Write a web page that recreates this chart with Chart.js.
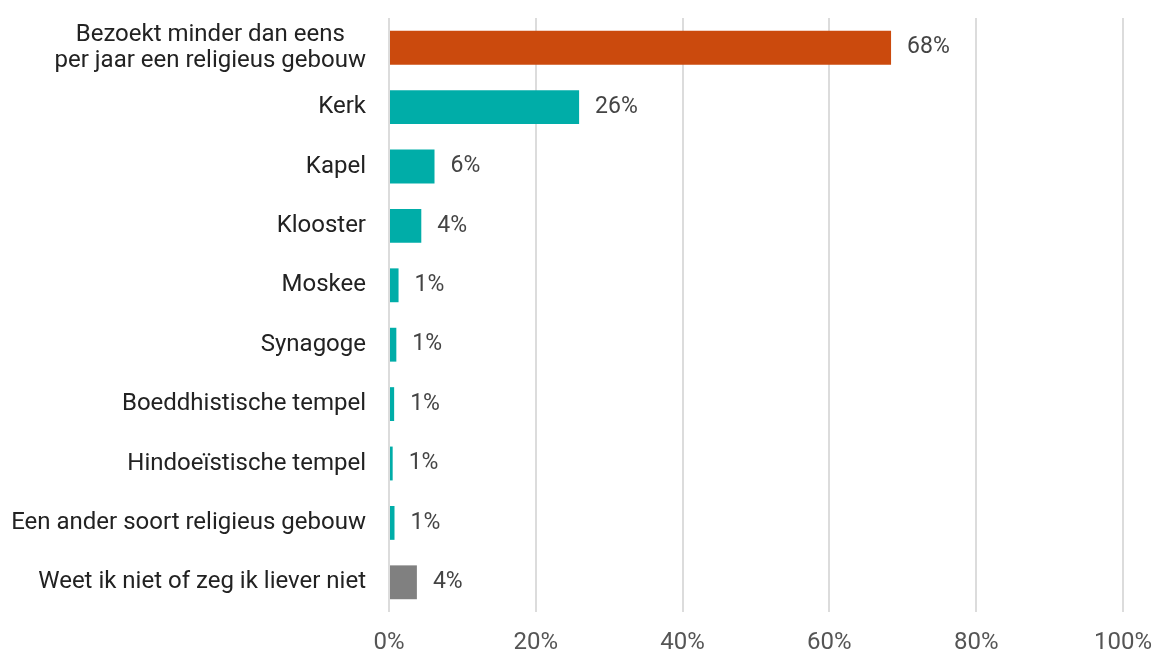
<!DOCTYPE html>
<html>
<head>
<meta charset="utf-8">
<script src="https://cdn.jsdelivr.net/npm/chart.js@4"></script>
<style>
    html, body { margin: 0; padding: 0; background: #fff; }
    #wrap { width: 1154px; height: 653px; }
</style>
</head>
<body>
<div id="wrap"><canvas id="chart"></canvas></div>
<script>
const categories = [
    ['Bezoekt minder dan eens', 'per jaar een religieus gebouw'],
    'Kerk',
    'Kapel',
    'Klooster',
    'Moskee',
    'Synagoge',
    'Boeddhistische tempel',
    'Hindoeïstische tempel',
    'Een ander soort religieus gebouw',
    'Weet ik niet of zeg ik liever niet'
];
const values = [68.4, 25.9, 6.2, 4.4, 1.3, 1.0, 0.7, 0.5, 0.75, 3.8];
const shownLabels = ['68%', '26%', '6%', '4%', '1%', '1%', '1%', '1%', '1%', '4%'];
const xTicks = [0, 20, 40, 60, 80, 100];

const barColors = values.map((v, i) => {
    if (i === 0) return 'rgb(203,74,13)';
    if (i === values.length - 1) return 'rgb(128,128,128)';
    return 'rgb(0,173,168)';
});

// value labels at the end of each bar + the two-line category label (centered lines)
const valueLabels = {
    id: 'valueLabels',
    afterDatasetsDraw(chart) {
        const ctx = chart.ctx;
        const meta = chart.getDatasetMeta(0);
        ctx.save();
        ctx.font = '23px Roboto';
        ctx.fillStyle = '#444';
        ctx.textAlign = 'left';
        ctx.textBaseline = 'middle';
        meta.data.forEach((bar, i) => {
            ctx.fillText(shownLabels[i], bar.x + 16, bar.y);
        });

        const yScale = chart.scales.y;
        ctx.font = '24px Roboto';
        ctx.fillStyle = '#222';
        ctx.textAlign = 'center';
        categories.forEach((c, i) => {
            if (!Array.isArray(c)) return;
            const w = Math.max(...c.map(s => ctx.measureText(s).width));
            const cx = yScale.right - 23 - w / 2;
            const cy = yScale.getPixelForTick(i);
            const lh = 26;
            c.forEach((line, k) => {
                ctx.fillText(line, cx, cy + (k - (c.length - 1) / 2) * lh);
            });
        });
        ctx.restore();
    }
};

const data = {
    labels: categories,
    datasets: [{
        data: values,
        backgroundColor: barColors,
        borderWidth: 0,
        categoryPercentage: 1,
        barPercentage: 0.57
    }]
};

const config = {
    type: 'bar',
    data: data,
    options: {
        indexAxis: 'y',
        responsive: true,
        maintainAspectRatio: false,
        animation: false,
        layout: {
            padding: { top: 18, right: 31, bottom: 0, left: 12 }
        },
        scales: {
            x: {
                min: 0,
                max: 100,
                afterBuildTicks: (axis) => {
                    axis.ticks = xTicks.map(v => ({ value: v }));
                },
                afterFit: (axis) => {
                    axis.height = 41;
                    axis.paddingRight = 0;
                    axis.paddingLeft = 0;
                },
                grid: {
                    color: '#dcdcdc',
                    lineWidth: 2,
                    drawTicks: false
                },
                border: { display: false },
                ticks: {
                    color: '#555',
                    font: { family: 'Roboto', size: 24 },
                    padding: 17,
                    callback: (v) => v + '%'
                }
            },
            y: {
                afterFit: (axis) => {
                    axis.width = 377;
                    axis.paddingTop = 0;
                    axis.paddingBottom = 0;
                },
                grid: { display: false, drawTicks: false },
                border: { display: false },
                ticks: {
                    color: '#222',
                    font: { family: 'Roboto', size: 24 },
                    padding: 23,
                    callback: (v, i) => Array.isArray(categories[i]) ? '' : categories[i]
                }
            }
        },
        plugins: {
            legend: { display: false },
            tooltip: { enabled: false }
        }
    },
    plugins: [valueLabels]
};

const religieusChart = new Chart(
    document.getElementById('chart'),
    config
);
</script>
</body>
</html>
